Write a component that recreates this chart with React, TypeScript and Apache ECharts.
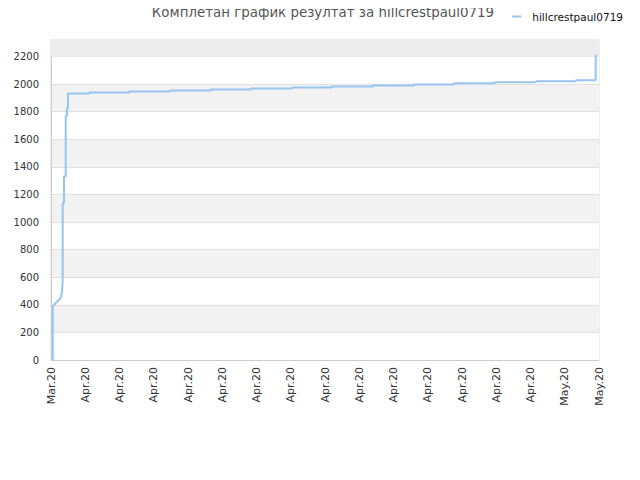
import React, { useEffect, useRef } from "react";
import * as echarts from "echarts";

const title = "Комплетан график резултат за hillcrestpaul0719";
const seriesName = "hillcrestpaul0719";

const xLabels = [
  "Mar.20", "Apr.20", "Apr.20", "Apr.20", "Apr.20", "Apr.20", "Apr.20", "Apr.20", "Apr.20",
  "Apr.20", "Apr.20", "Apr.20", "Apr.20", "Apr.20", "Apr.20", "May.20", "May.20",
];

// x positions (in label-interval units) and cumulative scores
const pointX = [
  0.05, 0.05, 0.108, 0.204, 0.283, 0.321, 0.341, 0.341, 0.38, 0.38, 0.43, 0.43, 0.467, 0.467, 0.496, 0.496,
  1.118, 1.118, 2.277, 2.277, 3.474, 3.474, 4.672, 4.672, 5.84, 5.84, 7.036, 7.036, 8.204, 8.204,
  9.401, 9.401, 10.599, 10.599, 11.766, 11.766, 12.964, 12.964, 14.161, 14.161, 15.328, 15.328, 15.904, 15.904,
];
const pointY = [
  0, 390, 406, 430, 450, 498, 571, 1139, 1139, 1333, 1333, 1769, 1769, 1829, 1829, 1933,
  1933, 1939, 1939, 1946, 1946, 1954, 1954, 1961, 1961, 1968, 1968, 1975, 1975, 1983,
  1983, 1991, 1991, 1998, 1998, 2006, 2006, 2013, 2013, 2021, 2021, 2028, 2028, 2213,
];

const yMax = 2320;
const yInterval = 200;

export default function App() {
  const ref = useRef<HTMLDivElement>(null);
  useEffect(() => {
    if (!ref.current) return;
    const chart = echarts.init(ref.current, undefined, { renderer: "svg" });
    const font = "DejaVu Sans";
    chart.setOption({
      animation: false,
      backgroundColor: "#fff",
      title: {
        text: title,
        left: 318,
        textAlign: "center",
        top: 1,
        textStyle: { fontFamily: font, fontSize: 13.4, fontWeight: "normal", color: "#555" },
      },
      legend: {
        data: [seriesName],
        right: 12,
        top: 6,
        icon: "path://M0,0 h9 v2 h-9 z M15,0 h0.01 v2 h-0.01 z",
        itemWidth: 15,
        itemHeight: 2,
        itemGap: 6,
        textStyle: { fontFamily: font, fontSize: 10.5, color: "#111" },
      },
      grid: {
        left: 51,
        right: 41,
        top: 40,
        bottom: 120,
        show: true,
        borderColor: "#ddd",
        borderWidth: 1,
      },
      xAxis: {
        type: "value",
        min: 0,
        max: xLabels.length - 1,
        interval: 1,
        axisLine: { show: true, lineStyle: { color: "#ccc" } },
        axisTick: { show: false },
        splitLine: { show: false },
        axisLabel: {
          rotate: 90,
          margin: 7,
          showMinLabel: true,
          showMaxLabel: true,
          fontFamily: font,
          fontSize: 11,
          color: "#333",
          formatter: (v: number) => xLabels[Math.round(v)] ?? "",
        },
      },
      yAxis: {
        type: "value",
        min: 0,
        max: yMax,
        interval: yInterval,
        axisLine: { show: true, lineStyle: { color: "#ccc" } },
        axisTick: { show: false },
        axisLabel: {
          fontFamily: font,
          fontSize: 10,
          color: "#333",
          margin: 12,
          formatter: (v: number) => (v % yInterval === 0 ? String(v) : ""),
        },
        splitLine: { show: true, lineStyle: { color: "#e0e0e0" } },
        splitArea: { show: true, areaStyle: { color: ["#ffffff", "#f2f2f2"] } },
      },
      series: [
        {
          name: seriesName,
          type: "line",
          data: pointX.map((x, i) => [x, pointY[i]]),
          showSymbol: false,
          symbol: "none",
          lineStyle: { color: "#97c4f0", width: 2 },
          itemStyle: { color: "#97c4f0" },
          markArea: {
            silent: true,
            itemStyle: { color: "#ececec" },
            data: [[{ yAxis: 2200 }, { yAxis: yMax }]],
          },
        },
      ],
    });
    return () => chart.dispose();
  }, []);
  return <div ref={ref} style={{ width: 640, height: 480, margin: -8 }} />;
}
